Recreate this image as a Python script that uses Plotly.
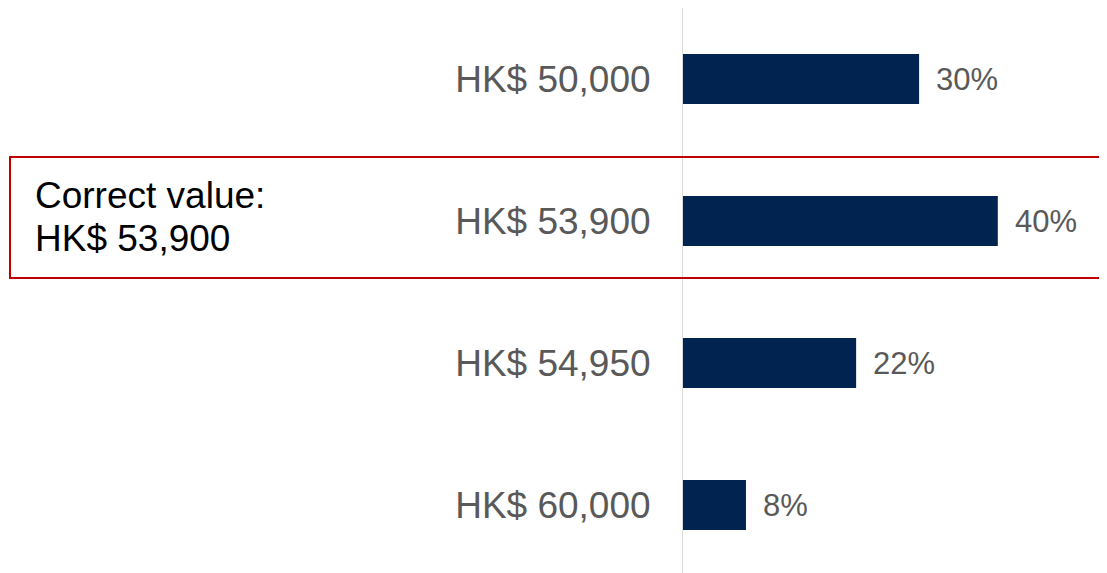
import plotly.graph_objects as go

categories = ["HK$ 50,000", "HK$ 53,900", "HK$ 54,950", "HK$ 60,000"]
shares = [30, 40, 22, 8]
share_labels = ["30%", "40%", "22%", "8%"]
note_lines = ["Correct value:", "HK$ 53,900"]

# page body has an 8px default margin; work in page pixels and subtract it
OFF = 8
W, H = 1107 - OFF, 573 - OFF
L, T = 683 - OFF, 8 - OFF
plot_w = W - L
plot_h = H - T
px_per_unit = 7.87
band = 142.0

def px_to_paper_x(px):
    return (px - OFF - L) / plot_w

def px_to_paper_y(py):
    return 1 - (py - OFF - T) / plot_h

ypos = list(range(len(categories)))

fig = go.Figure()
fig.add_trace(go.Bar(
    x=shares, y=ypos, orientation="h",
    marker=dict(color="#002350", line=dict(width=0)),
    width=0.352, hoverinfo="skip",
))

for v, yy, lab in zip(shares, ypos, share_labels):
    fig.add_annotation(x=v, y=yy, xref="x", yref="y", text=lab, showarrow=False,
                       xanchor="left", yanchor="middle", xshift=15,
                       font=dict(family="Liberation Sans, Arial, sans-serif", size=31, color="#595959"))

# red highlight box
fig.add_shape(type="rect", xref="paper", yref="paper",
              x0=px_to_paper_x(10), x1=px_to_paper_x(1120),
              y0=px_to_paper_y(278), y1=px_to_paper_y(157),
              line=dict(color="#c00000", width=2), fillcolor="rgba(0,0,0,0)", layer="above")

for line_txt, cy in zip(note_lines, [196, 239]):
    fig.add_annotation(x=px_to_paper_x(33), y=px_to_paper_y(cy), xref="paper", yref="paper",
                       text=line_txt, showarrow=False, xanchor="left", yanchor="middle",
                       font=dict(family="Liberation Sans, Arial, sans-serif", size=37, color="#000000"))

fig.update_layout(
    width=W, height=H,
    margin=dict(l=L, r=0, t=T, b=0),
    plot_bgcolor="white", paper_bgcolor="white",
    showlegend=False,
    xaxis=dict(range=[0, plot_w / px_per_unit], visible=False, fixedrange=True),
    yaxis=dict(
        range=[plot_h / band - 0.5, -0.5],
        tickmode="array", tickvals=ypos, ticktext=categories,
        showgrid=False, zeroline=False,
        showline=True, linecolor="#d9d9d9", linewidth=1,
        ticks="", ticklabelstandoff=24,
        tickfont=dict(family="Liberation Sans, Arial, sans-serif", size=37, color="#595959"),
        fixedrange=True,
    ),
)

fig.write_html("out.html")
